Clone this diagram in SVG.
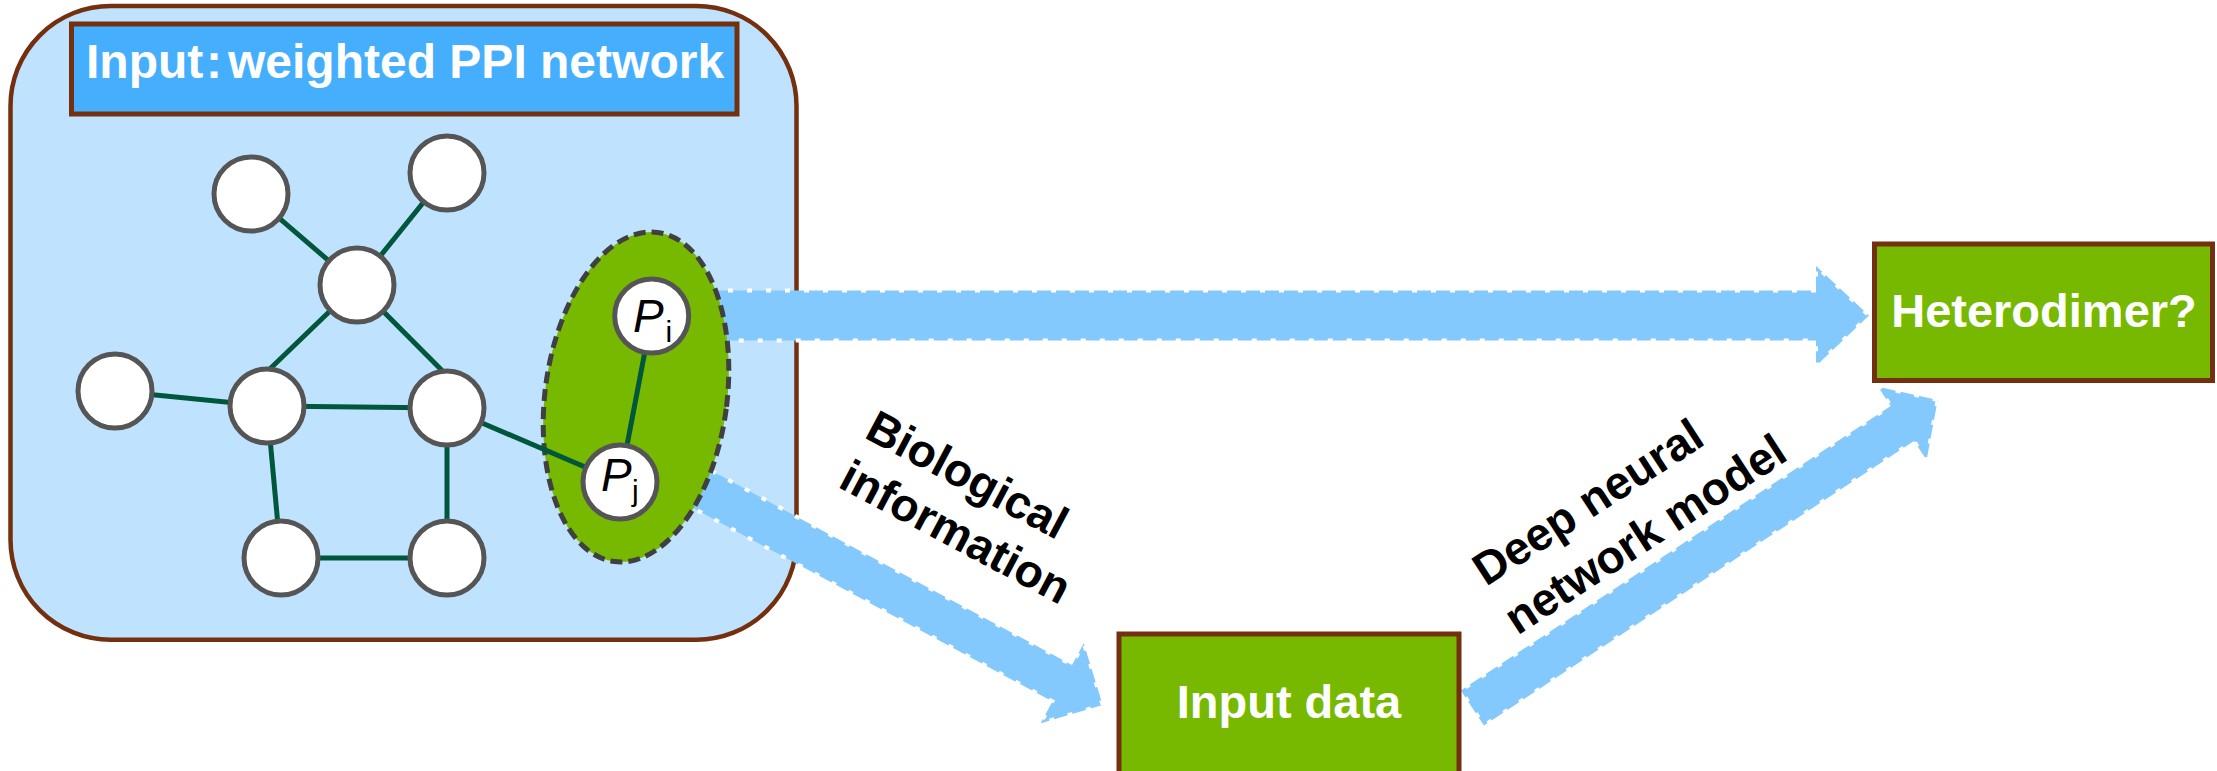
<svg xmlns="http://www.w3.org/2000/svg" width="2217" height="771" viewBox="0 0 2217 771">
  <style>
    .frame { fill: #bfe3ff; stroke: #74300e; stroke-width: 4.5; }
    .title { fill: #45affe; stroke: #74300e; stroke-width: 5; }
    .box { fill: #77b900; stroke: #74300e; stroke-width: 5; }
    .pair { fill: #77b900; stroke: #404040; stroke-width: 5; stroke-dasharray: 12 6; }
    .node { fill: #ffffff; stroke: #555555; stroke-width: 5; }
    .edge { stroke: #00573c; stroke-width: 5; fill: none; }
    .arrow { fill: #84c9fe; stroke: #ffffff; stroke-width: 4; stroke-dasharray: 5 14; }
    .white { fill: #ffffff; font-family: "Liberation Sans", Arial, sans-serif; font-weight: bold; }
    .label { fill: #000000; font-family: "Liberation Sans", Arial, sans-serif; font-weight: bold; font-size: 46px; }
    .pname { fill: #000000; font-family: "Liberation Sans", Arial, sans-serif; }
  </style>

  <!-- input network panel -->
  <g id="panel">
    <rect class="frame" x="10.5" y="6" width="786" height="633.7" rx="100" ry="100"/>
    <rect class="title" x="71.5" y="24" width="665.5" height="90"/>
    <text class="white" font-size="48" y="78"><tspan x="86">Input</tspan><tspan x="214" text-anchor="middle">:</tspan><tspan x="228">weighted PPI network</tspan></text>
  </g>

  <!-- flow arrows -->
  <g id="arrows">
    <polygon class="arrow" points="690,290.5 1816,290.5 1816,266 1869,315.5 1816,366 1816,340.5 690,340.5"/>
    <polygon class="arrow" transform="translate(1102.7,705) rotate(28.3)" points="0,0 -46,-45.5 -46,-20.7 -486,-20.7 -486,20.7 -46,20.7 -46,45.5"/>
    <polygon class="arrow" transform="translate(1937.7,400) rotate(-33.5)" points="0,0 -42.4,-44 -42.4,-21 -558,-21 -558,21 -42.4,21 -42.4,44"/>
  </g>

  <!-- selected protein pair -->
  <g id="pair">
    <ellipse class="pair" cx="636" cy="397" rx="91" ry="166" transform="rotate(7.5 636 397)"/>
  </g>

  <!-- interaction edges -->
  <g id="edges">
    <line class="edge" x1="251" y1="194" x2="357" y2="285"/>
    <line class="edge" x1="447" y1="173" x2="357" y2="285"/>
    <line class="edge" x1="357" y1="285" x2="266.7" y2="372"/>
    <line class="edge" x1="357" y1="285" x2="443.5" y2="372"/>
    <line class="edge" x1="115" y1="391" x2="267" y2="406"/>
    <line class="edge" x1="267" y1="406" x2="447" y2="408"/>
    <line class="edge" x1="267" y1="406" x2="281" y2="558"/>
    <line class="edge" x1="447" y1="408" x2="447" y2="558"/>
    <line class="edge" x1="281" y1="558" x2="447" y2="558"/>
    <line class="edge" x1="447" y1="408" x2="620" y2="482"/>
    <line class="edge" x1="651.7" y1="316" x2="620" y2="482"/>
  </g>

  <!-- proteins -->
  <g id="n1"><circle class="node" cx="251" cy="194" r="37"/></g>
  <g id="n2"><circle class="node" cx="447" cy="173" r="37"/></g>
  <g id="n3"><circle class="node" cx="357" cy="285" r="37"/></g>
  <g id="n4"><circle class="node" cx="115" cy="391" r="37"/></g>
  <g id="n5"><circle class="node" cx="267" cy="406" r="37"/></g>
  <g id="n6"><circle class="node" cx="447" cy="408" r="37"/></g>
  <g id="n7"><circle class="node" cx="281" cy="558" r="37"/></g>
  <g id="n8"><circle class="node" cx="447" cy="558" r="37"/></g>
  <g id="pi">
    <circle class="node" cx="651.7" cy="316" r="37"/>
    <text class="pname" y="332"><tspan x="633" font-size="46" font-style="italic">P</tspan><tspan x="665.5" y="342" font-size="30">i</tspan></text>
  </g>
  <g id="pj">
    <circle class="node" cx="620" cy="482" r="37"/>
    <text class="pname" y="491"><tspan x="601" font-size="46" font-style="italic">P</tspan><tspan x="632" y="500.5" font-size="30">j</tspan></text>
  </g>

  <!-- outcome -->
  <g id="heterodimer">
    <rect class="box" x="1874.5" y="244" width="338" height="136.5"/>
    <text class="white" font-size="47" x="2044" y="327" text-anchor="middle">Heterodimer?</text>
  </g>

  <!-- features -->
  <g id="input-data">
    <rect class="box" x="1119" y="634" width="340" height="160"/>
    <text class="white" font-size="47" x="1289" y="718" text-anchor="middle">Input data</text>
  </g>

  <!-- arrow captions -->
  <g id="caption-bio">
    <text class="label" transform="translate(863,437) rotate(28)"><tspan x="0" y="0">Biological</tspan><tspan x="0" y="56">information</tspan></text>
  </g>
  <g id="caption-dnn">
    <text class="label" transform="translate(1486,587) rotate(-33)"><tspan x="0" y="0">Deep neural</tspan><tspan x="0" y="58">network model</tspan></text>
  </g>
</svg>
